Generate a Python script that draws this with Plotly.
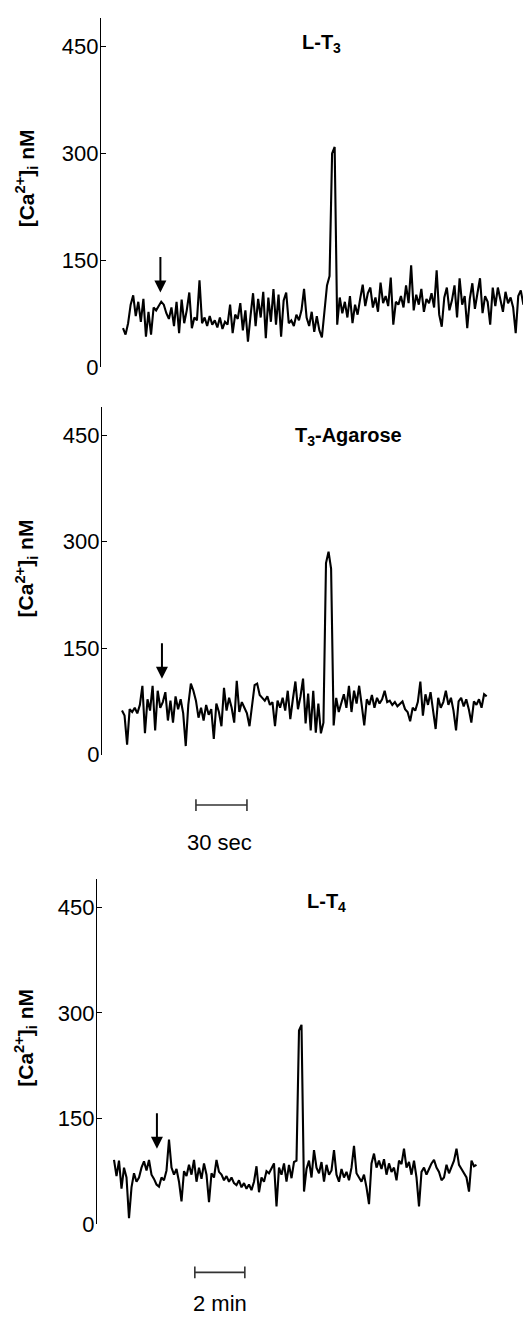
import plotly.graph_objects as go

W, H = 531, 1319

# ---------------- data ----------------
panel_titles = ["<b>L-T<sub>3</sub></b>", "<b>T<sub>3</sub>-Agarose</b>", "<b>L-T<sub>4</sub></b>"]
y_ticks = [0, 150, 300, 450]

dt_LT3 = 1.5      # s per sample
ca_LT3 = [
    55, 46, 62, 88, 101, 72, 92, 64, 96, 43,
    78, 46, 84, 80, 86, 92, 88, 76, 68, 84,
    58, 92, 48, 95, 62, 80, 105, 55, 70, 66,
    122, 62, 70, 58, 72, 60, 66, 56, 70, 54,
    64, 60, 88, 48, 74, 68, 90, 52, 80, 36,
    72, 104, 58, 96, 70, 106, 41, 98, 64, 110,
    60, 102, 43, 94, 105, 62, 66, 58, 74, 66,
    80, 110, 70, 58, 78, 50, 72, 52, 42, 80,
    115, 128, 300, 309, 60, 98, 76, 92, 70, 100,
    62, 88, 74, 96, 116, 86, 104, 112, 84, 98,
    78, 119, 90, 100, 86, 126, 60, 92, 88, 100,
    84, 115, 90, 143, 80, 102, 88, 110, 78, 96,
    90, 104, 84, 136, 74, 57, 98, 112, 80, 94,
    115, 70, 125, 88, 100, 55, 96, 118, 82, 104,
    125, 76, 100, 92, 60, 112, 86, 112, 96, 78,
    106, 90, 98, 84, 48, 100, 108, 88, 96, 119,
    82, 94, 104, 100,
]

dt_T3A = 1.5
ca_T3A = [
    62, 55, 14, 64, 60, 66, 58, 70, 97, 30,
    78, 62, 97, 34, 90, 66, 74, 88, 48, 76,
    45, 82, 64, 78, 58, 12, 70, 100, 90, 76,
    52, 66, 48, 70, 56, 64, 22, 72, 60, 40,
    94, 62, 80, 66, 45, 104, 60, 74, 66, 58,
    40, 72, 98, 100, 84, 80, 76, 82, 70, 74,
    40, 76, 66, 80, 62, 90, 50, 78, 103, 64,
    82, 107, 44, 86, 34, 90, 31, 72, 30, 45,
    270, 286, 262, 41, 80, 60, 74, 85, 66, 97,
    60, 90, 72, 97, 70, 41, 78, 70, 84, 66,
    80, 72, 78, 90, 74, 76, 70, 74, 68, 72,
    75, 64, 60, 47, 66, 62, 74, 103, 55, 85,
    70, 88, 62, 36, 80, 66, 74, 90, 70, 80,
    62, 34, 75, 80, 68, 78, 64, 45, 75, 70,
    78, 66, 85, 82,
]

dt_LT4 = 6.0
ca_LT4 = [
    91, 68, 90, 50, 80, 66, 8, 52, 72, 60,
    66, 80, 89, 76, 91, 70, 64, 56, 53, 66,
    62, 76, 120, 80, 70, 78, 60, 32, 75, 68,
    84, 70, 91, 60, 80, 64, 86, 70, 31, 72,
    66, 91, 74, 70, 62, 68, 60, 66, 58, 55,
    62, 52, 58, 50, 56, 48, 60, 82, 45, 66,
    60, 75, 72, 80, 86, 25, 80, 70, 86, 60,
    84, 65, 88, 90, 275, 283, 46, 78, 90, 66,
    105, 80, 72, 88, 60, 84, 70, 76, 105, 70,
    60, 78, 66, 74, 62, 80, 111, 72, 66, 60,
    70, 52, 28, 86, 100, 80, 90, 78, 92, 70,
    86, 74, 80, 62, 90, 85, 107, 80, 88, 70,
    90, 66, 25, 74, 80, 70, 78, 86, 91, 80,
    74, 62, 66, 84, 72, 80, 90, 107, 84, 78,
    72, 66, 46, 90, 82, 84,
]

# stimulus (arrow) times in s and arrow-tip levels in nM
arrow_t = [22.0, 23.5, 103.0]
arrow_y = [105, 107, 107]

# scale bars: start time (s), length (s), label
bar_start = [43.5, 194.0]
bar_len = [30, 120]
bar_text = ["30 sec", "2 min"]

# ---------------- layout helpers ----------------
def fx(px):
    return px / W

def fy(py):
    return 1 - py / H

FONT = "Liberation Sans, Arial, Helvetica, sans-serif"

series = [
    (ca_LT3, dt_LT3),
    (ca_T3A, dt_T3A),
    (ca_LT4, dt_LT4),
]
# pixel geometry of each panel: axis x, first sample x, px/s, y bottom, y top
geom = [
    (93, 115, 1.7, 363, 10),
    (94, 114, 1.7, 754, 403),
    (89, 106, 50 / 120, 1228, 880),
]
title_pos = [(313, 36), (340, 433), (318, 903)]
ylab_y = [172, 566, 1040]

fig = go.Figure()
layout = dict(
    width=W, height=H,
    margin=dict(l=0, r=0, t=0, b=0),
    paper_bgcolor="white", plot_bgcolor="white",
    showlegend=False,
    font=dict(family=FONT, color="black"),
)
annotations = []
shapes = []

for k, ((vals, dt), (ax_px, x0_px, pps, yb, yt)) in enumerate(zip(series, geom)):
    n = "" if k == 0 else str(k + 1)
    t = [i * dt for i in range(len(vals))]
    fig.add_trace(go.Scatter(
        x=t, y=vals, mode="lines",
        line=dict(color="black", width=2.1),
        xaxis="x" + n, yaxis="y" + n, hoverinfo="skip",
    ))
    xr = [-(x0_px - ax_px) / pps, (W - x0_px) / pps]
    layout["xaxis" + n] = dict(
        domain=[fx(ax_px), 1.0], range=xr, visible=False,
        anchor="y" + n, fixedrange=True,
    )
    layout["yaxis" + n] = dict(
        domain=[fy(yb), fy(yt)], range=[0, 490], anchor="x" + n,
        showline=True, linecolor="black", linewidth=1.3,
        ticks="inside", ticklen=5, tickwidth=1.3, tickcolor="black",
        tickvals=y_ticks, ticktext=[str(v) for v in y_ticks],
        tickfont=dict(size=22, family=FONT, color="black"),
        ticklabelstandoff=-3,
        showgrid=False, zeroline=False, fixedrange=True,
    )
    # panel title
    tx, ty = title_pos[k]
    annotations.append(dict(
        text=panel_titles[k], x=fx(tx), y=fy(ty), xref="paper", yref="paper",
        showarrow=False, xanchor="center", yanchor="middle",
        font=dict(size=20, family=FONT, color="black"),
    ))
    # y label
    annotations.append(dict(
        text="<b>[Ca<sup>2+</sup>]<sub>i</sub> nM</b>", textangle=-90,
        x=fx(18), y=fy(ylab_y[k]), xref="paper", yref="paper",
        showarrow=False, xanchor="center", yanchor="middle",
        font=dict(size=21, family=FONT, color="black"),
    ))
    # stimulus arrow
    annotations.append(dict(
        text="", x=arrow_t[k], y=arrow_y[k], xref="x" + n, yref="y" + n,
        showarrow=True, ax=0, ay=-37, arrowhead=2, arrowsize=1.2,
        arrowwidth=2, arrowcolor="black",
    ))

# scale bars (panel 2 and panel 3 time bases)
bar_axes = ["x2", "x3"]
bar_py = [805, 1277]
text_py = [843, 1308]
text_px = [211, 212]
for j in range(2):
    xa = bar_axes[j]
    a, b = bar_start[j], bar_start[j] + bar_len[j]
    yb = fy(bar_py[j])
    cap = 6 / H
    line = dict(color="#333333", width=1.6)
    shapes.append(dict(type="line", xref=xa, yref="paper", x0=a, x1=b, y0=yb, y1=yb, line=line))
    shapes.append(dict(type="line", xref=xa, yref="paper", x0=a, x1=a, y0=yb - cap, y1=yb + cap, line=line))
    shapes.append(dict(type="line", xref=xa, yref="paper", x0=b, x1=b, y0=yb - cap, y1=yb + cap, line=line))
    annotations.append(dict(
        text=bar_text[j], x=fx(text_px[j]), y=fy(text_py[j]), xref="paper", yref="paper",
        showarrow=False, xanchor="center", yanchor="middle",
        font=dict(size=22, family=FONT, color="black"),
    ))

layout["annotations"] = annotations
layout["shapes"] = shapes
fig.update_layout(**layout)
fig.write_html("out.html")
